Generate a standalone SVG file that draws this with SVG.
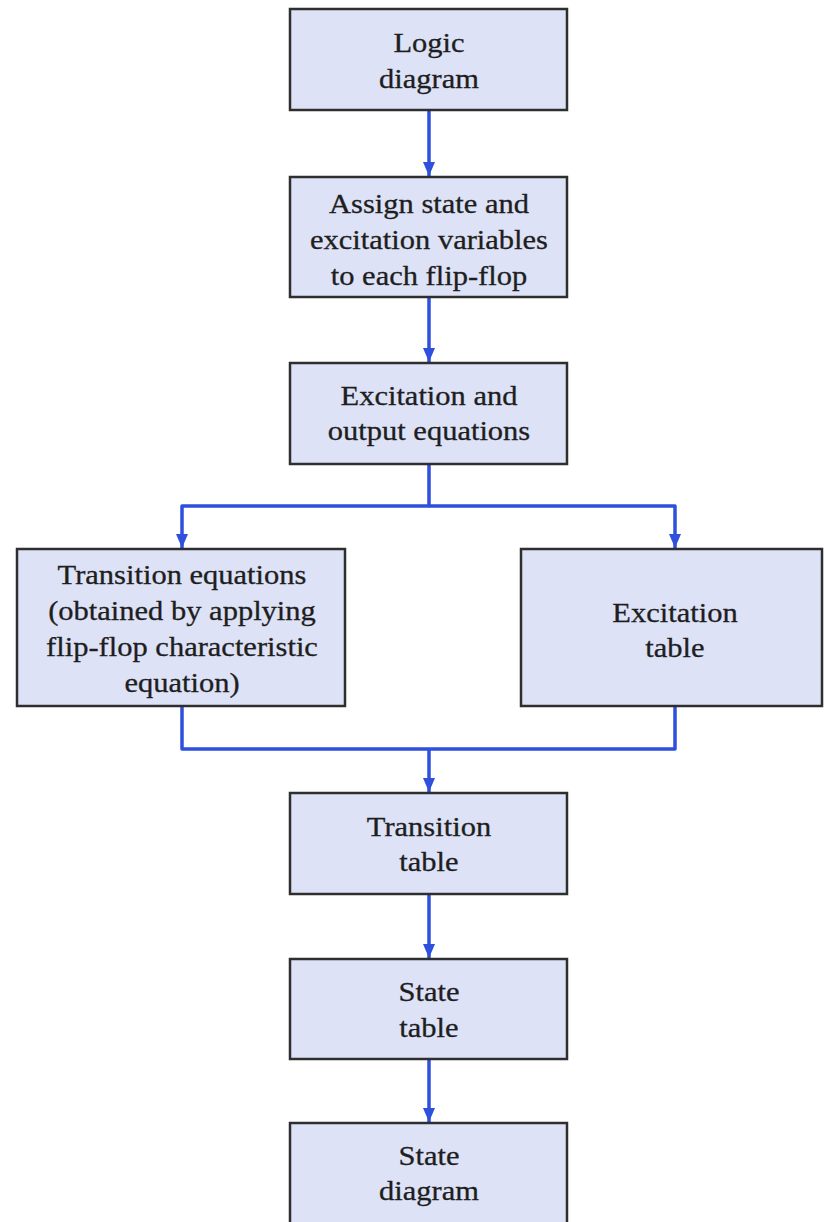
<svg xmlns="http://www.w3.org/2000/svg" width="824" height="1222" viewBox="0 0 824 1222">
  <style>
    .box { fill: #dde2f6; stroke: #2e2e2e; stroke-width: 2.5; }
    .lbl { font-family: "Liberation Serif", "Times New Roman", serif; font-size: 27px; fill: #1e1e1e; text-anchor: middle; stroke: #1e1e1e; stroke-width: 0.3; }
    .wire { fill: none; stroke: #2f50dc; stroke-width: 3.5; stroke-linejoin: round; }
  </style>
  <defs>
    <marker id="arrow" viewBox="0 0 14 12" refX="14" refY="6" markerWidth="14" markerHeight="12" markerUnits="userSpaceOnUse" orient="auto">
      <path d="M0,0 L14,6 L0,12 Z" fill="#2f50dc"/>
    </marker>
  </defs>
  <rect x="0" y="0" width="824" height="1222" fill="#ffffff"/>

  <g id="connectors">
    <line class="wire" x1="429" y1="110" x2="429" y2="176" marker-end="url(#arrow)"/>
    <line class="wire" x1="429" y1="297" x2="429" y2="362" marker-end="url(#arrow)"/>
    <path class="wire" d="M429 464 V506 H182 V548" marker-end="url(#arrow)"/>
    <path class="wire" d="M429 506 H675 V548" marker-end="url(#arrow)"/>
    <path class="wire" d="M182 706 V749 H675 V706"/>
    <line class="wire" x1="429" y1="749" x2="429" y2="792" marker-end="url(#arrow)"/>
    <line class="wire" x1="429" y1="894" x2="429" y2="958" marker-end="url(#arrow)"/>
    <line class="wire" x1="429" y1="1059" x2="429" y2="1122" marker-end="url(#arrow)"/>
  </g>

  <g id="logic-diagram">
    <rect class="box" x="290" y="9" width="277" height="101"/>
    <text class="lbl" transform="translate(429 52) scale(1.13 1)">Logic</text>
    <text class="lbl" transform="translate(429 88) scale(1.13 1)">diagram</text>
  </g>

  <g id="assign-variables">
    <rect class="box" x="290" y="177" width="277" height="120"/>
    <text class="lbl" transform="translate(429 213) scale(1.13 1)">Assign state and</text>
    <text class="lbl" transform="translate(429 249) scale(1.13 1)">excitation variables</text>
    <text class="lbl" transform="translate(429 285) scale(1.13 1)">to each flip-flop</text>
  </g>

  <g id="excitation-output-equations">
    <rect class="box" x="290" y="363" width="277" height="101"/>
    <text class="lbl" transform="translate(429 405) scale(1.13 1)">Excitation and</text>
    <text class="lbl" transform="translate(429 440) scale(1.13 1)">output equations</text>
  </g>

  <g id="transition-equations">
    <rect class="box" x="17" y="549" width="328" height="157"/>
    <text class="lbl" transform="translate(182 584) scale(1.13 1)">Transition equations</text>
    <text class="lbl" transform="translate(182 620) scale(1.13 1)">(obtained by applying</text>
    <text class="lbl" transform="translate(182 656) scale(1.13 1)">flip-flop characteristic</text>
    <text class="lbl" transform="translate(182 692) scale(1.13 1)">equation)</text>
  </g>

  <g id="excitation-table">
    <rect class="box" x="521" y="549" width="301" height="157"/>
    <text class="lbl" transform="translate(675 622) scale(1.13 1)">Excitation</text>
    <text class="lbl" transform="translate(675 657) scale(1.13 1)">table</text>
  </g>

  <g id="transition-table">
    <rect class="box" x="290" y="793" width="277" height="101"/>
    <text class="lbl" transform="translate(429 836) scale(1.13 1)">Transition</text>
    <text class="lbl" transform="translate(429 871) scale(1.13 1)">table</text>
  </g>

  <g id="state-table">
    <rect class="box" x="290" y="959" width="277" height="100"/>
    <text class="lbl" transform="translate(429 1001) scale(1.13 1)">State</text>
    <text class="lbl" transform="translate(429 1037) scale(1.13 1)">table</text>
  </g>

  <g id="state-diagram">
    <rect class="box" x="290" y="1123" width="277" height="110"/>
    <text class="lbl" transform="translate(429 1165) scale(1.13 1)">State</text>
    <text class="lbl" transform="translate(429 1200) scale(1.13 1)">diagram</text>
  </g>
</svg>
